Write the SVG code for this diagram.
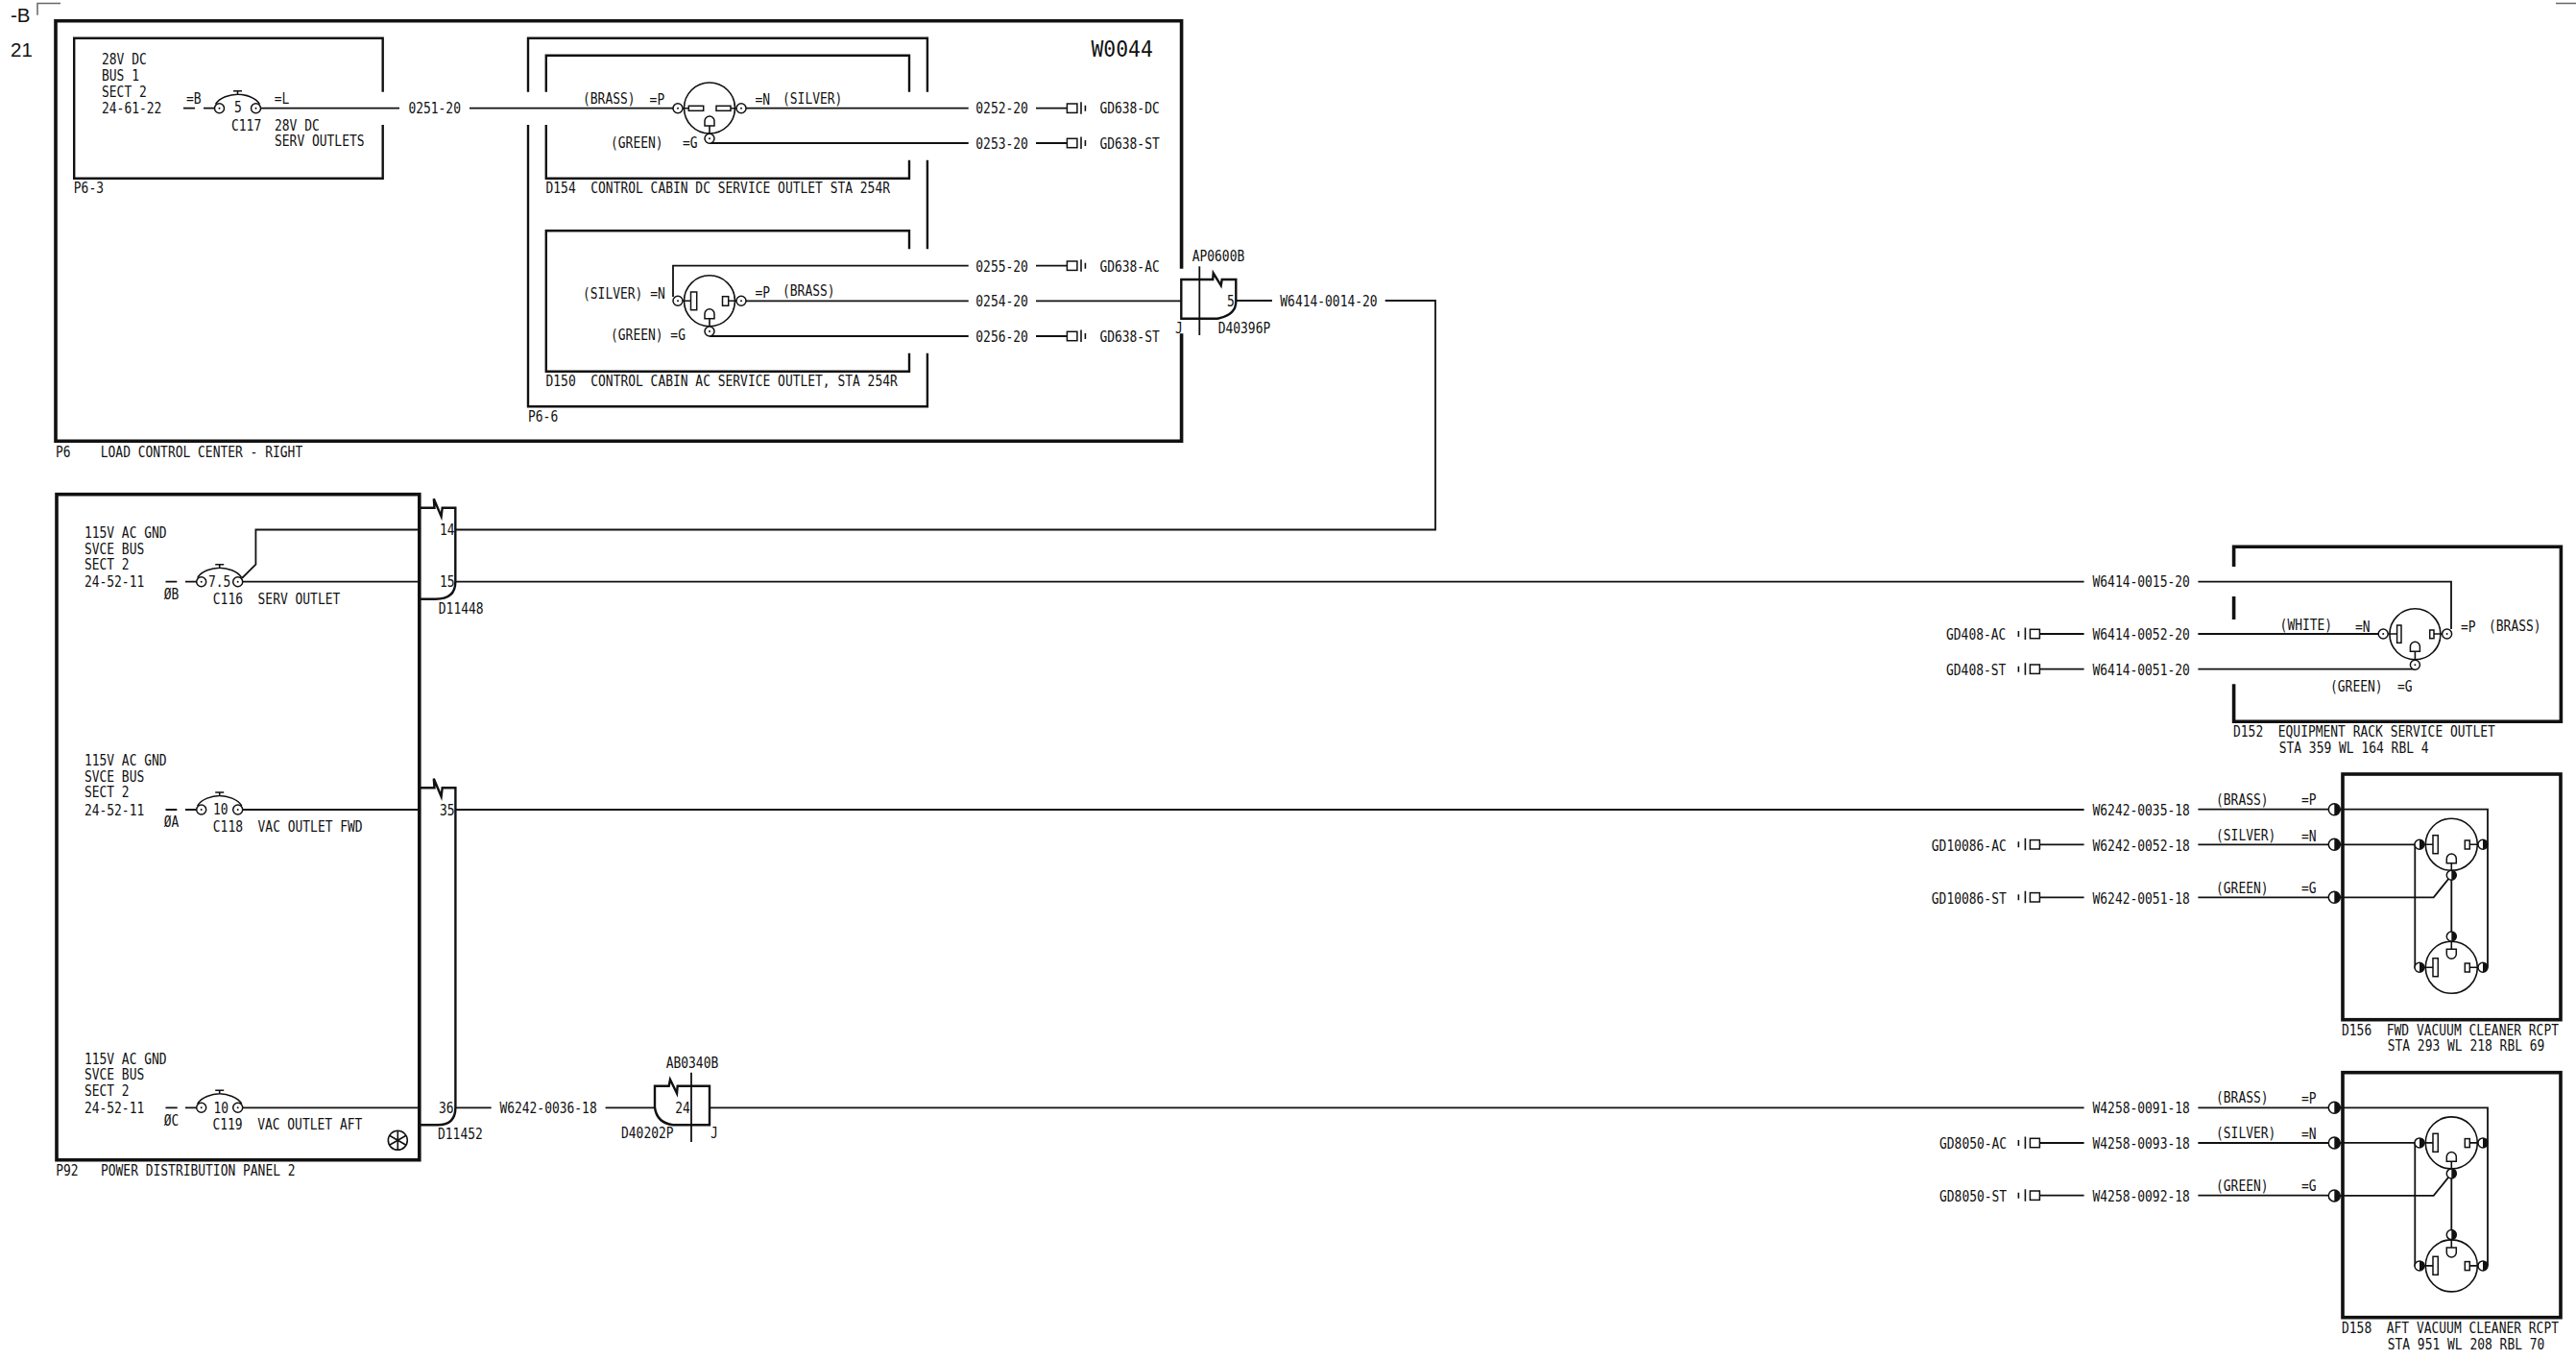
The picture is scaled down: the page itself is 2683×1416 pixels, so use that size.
<svg xmlns="http://www.w3.org/2000/svg" xmlns:xlink="http://www.w3.org/1999/xlink" width="2683" height="1416" viewBox="0 0 2683 1416">
<style>
text{font-family:"DejaVu Sans Mono","Liberation Mono",monospace;font-size:15px;fill:#111;white-space:pre}
.big{font-size:23px}
.page{font-family:"Liberation Sans",Arial,sans-serif;font-size:20.5px}
.w{fill:none;stroke:#111;stroke-width:1.8}
.b{fill:none;stroke:#111;stroke-width:2.4}
.o{fill:none;stroke:#111;stroke-width:3.6;stroke-linecap:square}
.s{fill:#fff;stroke:#111;stroke-width:1.5}
.n{fill:none;stroke:#111;stroke-width:1.6}
.k{fill:#111}
.m{fill:none;stroke:#666;stroke-width:1.5}
</style>
<defs>
<g id="t"><circle class="s" r="5"/><circle class="k" r="1"/></g>
<g id="h"><circle class="s" r="5"/><path class="k" d="M0-5A5 5 0 0 1 0 5Z"/></g>
<g id="H"><circle class="s" r="6"/><path class="k" d="M0-6A6 6 0 0 1 0 6Z"/></g>
<g id="gr"><rect class="s" y="-4.7" width="10.5" height="9.4"/><path class="n" d="M14.600-6.500V6M19-3V3"/></g>
<g id="gl"><rect class="s" x="-10" y="-4.700" width="10" height="9.4"/><path class="n" d="M-15-6.500V6M-22-3V3"/></g>
<g id="cb"><path class="n" d="M-23-4C-19-11-8-14.500 0-14.500S19-11 23-4M0-14.500V-18M-4.500-18H4.500"/><use xlink:href="#t" href="#t" x="-19"/><use xlink:href="#t" href="#t" x="19"/></g>
<g id="gnd"><path class="s" d="M-5 0V-5A5 5 0 0 1 5-5V0Z"/></g>
<g id="duo">
<path class="w" d="M2437 842.700H2591V1007.300M2437 879.300H2520M2515.300 879.300V1007.300H2520M2437 934.300H2534.700L2553.300 911.300V975M2586 879.300H2591"/>
<circle class="n" cx="2553.300" cy="879.300" r="27"/><circle class="n" cx="2553.300" cy="1007.300" r="27"/>
<path class="n" d="M2525 879.300H2534M2572.300 879.300H2581M2553.300 898.700V906M2525 1007.300H2534M2572.300 1007.300H2581M2553.300 980V988.300"/>
<rect class="s" x="2534" y="869.700" width="5.300" height="19"/><rect class="s" x="2567.300" y="875" width="5" height="9"/>
<rect class="s" x="2534" y="997.700" width="5.300" height="19"/><rect class="s" x="2567.300" y="1003" width="5" height="9"/>
<path class="s" d="M2548.300 898.700V894A5 5 0 0 1 2558.300 894V898.700Z"/><path class="s" d="M2548.300 988.300V993.300A5 5 0 0 0 2558.300 993.300V988.300Z"/>
<use xlink:href="#h" href="#h" x="2520" y="879.300"/><use xlink:href="#h" href="#h" x="2586" y="879.300"/><use xlink:href="#h" href="#h" x="2553.300" y="911.300"/>
<use xlink:href="#h" href="#h" x="2520" y="1007.300"/><use xlink:href="#h" href="#h" x="2586" y="1007.300"/><use xlink:href="#h" href="#h" x="2553.300" y="975"/>
<use xlink:href="#H" href="#H" x="2431.300" y="842.700"/><use xlink:href="#H" href="#H" x="2431.300" y="879.300"/><use xlink:href="#H" href="#H" x="2431.300" y="934.300"/>
</g>
</defs>

<g id="page-marks">
<path class="m" d="M39 15.700V3.500H63M2662 3.500H2683"/>
<text class="page" x="11" y="22.700">-B</text>
<text class="page" x="11" y="59">21</text>
</g>

<g id="connectors">
<path class="w" d="M191 112.700H203M212 112.700H224M271 112.700H416M489 112.700H701M776 112.700H1008.700M1079 112.700H1111.400M739 149H1008.700M1079 149H1111.400"/>
<path class="w" d="M1008.700 276.700H701V309M1079 276.700H1111.400M776 313.300H1008.700M1079 313.300H1230.300M739 350H1008.700M1079 350H1111.400"/>
<path class="w" d="M1287.300 313H1325M1442.700 313H1495V551.500H474.300"/>
<path class="w" d="M172.500 605.700H184.300M193 605.700H205M252 602L266.400 587.700V551.500H437M252.500 605.700H437M474.300 605.700H2170.600M2289.400 605.700H2553V655"/>
<path class="w" d="M172.500 843H184.300M193 843H205M252.500 843H437M474.300 843H2170.600M2289.400 842.700H2426"/>
<path class="w" d="M172.500 1153.300H184.700M193 1153.300H205M252.500 1153.300H437M474.500 1153.300H511.700M630.600 1153.300H682M739 1153.300H2170.600M2289.400 1153.300H2426"/>
<path class="w" d="M2124.400 660H2170.600M2289.400 660H2477M2124.400 696.700H2170.600M2289.400 696.700H2515.400"/>
<path class="w" d="M2124.400 879.300H2170.600M2289.400 879.300H2426M2124.400 934.300H2170.600M2289.400 934.300H2426"/>
<path class="w" d="M2124.400 1190H2170.600M2289.400 1190H2426M2124.400 1244.700H2170.600M2289.400 1244.700H2426"/>
</g>

<g id="P6">
<path class="o" d="M1230.600 278V21.700H58V459.300H1230.600V349"/>
<text class="big" transform="matrix(.93 0 0 1 1136.500 58.800)">W0044</text>
<text transform="matrix(.864 0 0 1 58 475.500)">P6    LOAD CONTROL CENTER - RIGHT</text>
</g>

<g id="P6-3">
<path class="b" d="M398.700 95.700V39.700H77.200V185.700H398.700V130"/>
<text transform="matrix(.864 0 0 1 106 66.700)">28V DC</text>
<text transform="matrix(.864 0 0 1 106 84)">BUS 1</text>
<text transform="matrix(.864 0 0 1 106 100.500)">SECT 2</text>
<text transform="matrix(.864 0 0 1 106 118)">24-61-22</text>
<text transform="matrix(.864 0 0 1 194 108.300)">=B</text>
<text transform="matrix(.864 0 0 1 285.700 108.300)">=L</text>
<use xlink:href="#cb" href="#cb" x="247.500" y="112.700"/>
<text transform="matrix(.864 0 0 1 244 117)">5</text>
<text transform="matrix(.864 0 0 1 241 136)">C117</text>
<text transform="matrix(.864 0 0 1 286 136)">28V DC</text>
<text transform="matrix(.864 0 0 1 286 152)">SERV OUTLETS</text>
<text transform="matrix(.864 0 0 1 76.800 201)">P6-3</text>
</g>

<g id="wire-labels-top">
<text transform="matrix(.864 0 0 1 425.400 118.300)">0251-20</text>
<text transform="matrix(.864 0 0 1 1016.300 118.300)">0252-20</text>
<text transform="matrix(.864 0 0 1 1016.300 155)">0253-20</text>
<text transform="matrix(.864 0 0 1 1016.300 283)">0255-20</text>
<text transform="matrix(.864 0 0 1 1016.300 318.700)">0254-20</text>
<text transform="matrix(.864 0 0 1 1016.300 356)">0256-20</text>
<text transform="matrix(.864 0 0 1 1333.300 319)">W6414-0014-20</text>
<use xlink:href="#gr" href="#gr" x="1111.400" y="112.700"/>
<use xlink:href="#gr" href="#gr" x="1111.400" y="149"/>
<use xlink:href="#gr" href="#gr" x="1111.400" y="276.700"/>
<use xlink:href="#gr" href="#gr" x="1111.400" y="350"/>
<text transform="matrix(.864 0 0 1 1145.400 118.300)">GD638-DC</text>
<text transform="matrix(.864 0 0 1 1145.400 155)">GD638-ST</text>
<text transform="matrix(.864 0 0 1 1145.400 283)">GD638-AC</text>
<text transform="matrix(.864 0 0 1 1145.400 356)">GD638-ST</text>
</g>

<g id="P6-6">
<path class="b" d="M550 95.700V39.700H965.900V95.700M965.900 166.700V259.300M965.900 367.700V423.300H550V130"/>
<text transform="matrix(.864 0 0 1 550 439.300)">P6-6</text>
</g>

<g id="D154">
<path class="b" d="M568.800 95.700V57.700H947V95.700M947 166.700V185.700H568.800V130"/>
<circle class="n" cx="739" cy="112.500" r="26.500"/>
<path class="n" d="M711 112.700H717.300M761 112.700H767M739 131V139"/>
<rect class="s" x="717.300" y="110.300" width="15.400" height="5"/><rect class="s" x="746" y="110.300" width="15" height="5"/>
<use xlink:href="#gnd" href="#gnd" x="739" y="131"/>
<use xlink:href="#t" href="#t" x="706" y="112.700"/><use xlink:href="#t" href="#t" x="772" y="112.700"/><use xlink:href="#t" href="#t" x="739" y="144.300"/>
<text transform="matrix(.864 0 0 1 607 107.700)">(BRASS)</text>
<text transform="matrix(.864 0 0 1 676.600 109.300)">=P</text>
<text transform="matrix(.864 0 0 1 786.400 109.300)">=N</text>
<text transform="matrix(.864 0 0 1 815 107.700)">(SILVER)</text>
<text transform="matrix(.864 0 0 1 636 154)">(GREEN)</text>
<text transform="matrix(.864 0 0 1 711 154)">=G</text>
<text transform="matrix(.864 0 0 1 568.500 201)">D154  CONTROL CABIN DC SERVICE OUTLET STA 254R</text>
</g>

<g id="D150">
<path class="b" d="M947 259.300V240.300H568.800V386.700H947V367.700"/>
<circle class="n" cx="739" cy="313.300" r="26.500"/>
<path class="n" d="M711 313.300H719.500M758.700 313.300H767M739 331.700V340"/>
<rect class="s" x="719.500" y="304" width="6.200" height="18.700"/><rect class="s" x="752.500" y="308.700" width="6.200" height="9.600"/>
<use xlink:href="#gnd" href="#gnd" x="739" y="331.700"/>
<use xlink:href="#t" href="#t" x="706" y="313.300"/><use xlink:href="#t" href="#t" x="772" y="313.300"/><use xlink:href="#t" href="#t" x="739" y="345"/>
<text transform="matrix(.864 0 0 1 607 310.700)">(SILVER) =N</text>
<text transform="matrix(.864 0 0 1 786.400 310)">=P</text>
<text transform="matrix(.864 0 0 1 815 308.300)">(BRASS)</text>
<text transform="matrix(.864 0 0 1 636 354.300)">(GREEN) =G</text>
<text transform="matrix(.864 0 0 1 568.500 402.300)">D150  CONTROL CABIN AC SERVICE OUTLET, STA 254R</text>
</g>

<g id="AP0600B">
<path class="b" d="M1263.200 291H1230.300V331.700H1268Q1287.300 328 1287.300 314V291H1272.700L1271.700 297.300L1263.700 284.300Z"/>
<path class="w" d="M1249.300 277.300V349"/>
<text transform="matrix(.864 0 0 1 1241.700 272.300)">AP0600B</text>
<text transform="matrix(.864 0 0 1 1278 319)">5</text>
<text transform="matrix(.864 0 0 1 1224 347.300)">J</text>
<text transform="matrix(.864 0 0 1 1268.700 347.300)">D40396P</text>
</g>

<g id="P92">
<rect class="o" x="59" y="514.700" width="377.800" height="693"/>
<text transform="matrix(.864 0 0 1 87.900 560.300)">115V AC GND</text>
<text transform="matrix(.864 0 0 1 87.900 577.300)">SVCE BUS</text>
<text transform="matrix(.864 0 0 1 87.900 593.300)">SECT 2</text>
<text transform="matrix(.864 0 0 1 87.900 611.300)">24-52-11</text>
<use xlink:href="#cb" href="#cb" x="228.700" y="605.700"/>
<text transform="matrix(.864 0 0 1 217 610.700)">7.5</text>
<text transform="matrix(.864 0 0 1 170.700 624)">ØB</text>
<text transform="matrix(.864 0 0 1 221.800 629.300)">C116  SERV OUTLET</text>
<text transform="matrix(.864 0 0 1 87.900 797.300)">115V AC GND</text>
<text transform="matrix(.864 0 0 1 87.900 814.300)">SVCE BUS</text>
<text transform="matrix(.864 0 0 1 87.900 830)">SECT 2</text>
<text transform="matrix(.864 0 0 1 87.900 849)">24-52-11</text>
<use xlink:href="#cb" href="#cb" x="228.700" y="843"/>
<text transform="matrix(.864 0 0 1 222 848.300)">10</text>
<text transform="matrix(.864 0 0 1 170.700 861.300)">ØA</text>
<text transform="matrix(.864 0 0 1 221.800 866.300)">C118  VAC OUTLET FWD</text>
<text transform="matrix(.864 0 0 1 87.900 1108.300)">115V AC GND</text>
<text transform="matrix(.864 0 0 1 87.900 1124.300)">SVCE BUS</text>
<text transform="matrix(.864 0 0 1 87.900 1141.300)">SECT 2</text>
<text transform="matrix(.864 0 0 1 87.900 1159.300)">24-52-11</text>
<use xlink:href="#cb" href="#cb" x="228.700" y="1153.300"/>
<text transform="matrix(.864 0 0 1 222.400 1158.700)">10</text>
<text transform="matrix(.864 0 0 1 170.700 1172.300)">ØC</text>
<text transform="matrix(.864 0 0 1 221.400 1176)">C119  VAC OUTLET AFT</text>
<g transform="translate(414.300 1187.300)"><circle class="n" r="10"/><path class="n" d="M0-10V10M-8.700-5L8.700 5M-8.700 5L8.700-5"/></g>
<text transform="matrix(.864 0 0 1 58.200 1224)">P92   POWER DISTRIBUTION PANEL 2</text>
</g>

<g id="D11448">
<path class="b" d="M437 528.700H452.500L451.800 519.300L459.600 537.700L460.700 528.700H474.300V606Q474.300 623.700 453.600 623.700H437"/>
<text transform="matrix(.864 0 0 1 457.900 557.300)">14</text>
<text transform="matrix(.864 0 0 1 457.900 611)">15</text>
<text transform="matrix(.864 0 0 1 456.800 639)">D11448</text>
</g>

<g id="D11452">
<path class="b" d="M437 820.300H452.500L451.800 810.700L459.600 829.300L460.700 820.300H474.400V1153Q474.400 1171.300 456 1171.300H437"/>
<text transform="matrix(.864 0 0 1 457.900 849)">35</text>
<text transform="matrix(.864 0 0 1 457 1159.300)">36</text>
<text transform="matrix(.864 0 0 1 456 1186)">D11452</text>
</g>

<g id="AB0340B">
<path class="b" d="M682 1153V1130.700H696.700L698 1124L705 1138.300L705.700 1130.700H739V1171.300H701Q684 1169 682 1153Z"/>
<path class="w" d="M720 1116.700V1189"/>
<text transform="matrix(.864 0 0 1 693.700 1111.700)">AB0340B</text>
<text transform="matrix(.864 0 0 1 703.300 1159)">24</text>
<text transform="matrix(.864 0 0 1 647 1185)">D40202P</text>
<text transform="matrix(.864 0 0 1 740 1185)">J</text>
<text transform="matrix(.864 0 0 1 520.400 1159.300)">W6242-0036-18</text>
</g>

<g id="D152">
<path class="o" d="M2326.600 588.300V569.300H2667.400V751.300H2326.600V714M2326.600 622.700V643.300"/>
<circle class="n" cx="2515.400" cy="660.300" r="26.500"/>
<path class="n" d="M2487 660H2496.600M2535 660H2543.600M2515.400 678.300V687.300"/>
<rect class="s" x="2496.600" y="651" width="4.400" height="18.300"/><rect class="s" x="2530.700" y="656" width="4.300" height="8.700"/>
<use xlink:href="#gnd" href="#gnd" x="2515.400" y="678.300"/>
<use xlink:href="#t" href="#t" x="2482.200" y="660"/><use xlink:href="#t" href="#t" x="2548.600" y="660"/><use xlink:href="#t" href="#t" x="2515.400" y="692.300"/>
<text transform="matrix(.864 0 0 1 2374.600 656)">(WHITE)</text>
<text transform="matrix(.864 0 0 1 2453 657.700)">=N</text>
<text transform="matrix(.864 0 0 1 2563 657.700)">=P</text>
<text transform="matrix(.864 0 0 1 2592 656.700)">(BRASS)</text>
<text transform="matrix(.864 0 0 1 2427 720)">(GREEN)</text>
<text transform="matrix(.864 0 0 1 2497 720)">=G</text>
<text transform="matrix(.864 0 0 1 2326 766.700)">D152  EQUIPMENT RACK SERVICE OUTLET</text>
<text transform="matrix(.864 0 0 1 2373.700 784.300)">STA 359 WL 164 RBL 4</text>
<text transform="matrix(.864 0 0 1 2179.500 611)">W6414-0015-20</text>
<text transform="matrix(.864 0 0 1 2179.500 666)">W6414-0052-20</text>
<text transform="matrix(.864 0 0 1 2179.500 702.700)">W6414-0051-20</text>
<use xlink:href="#gl" href="#gl" x="2124.400" y="660"/><use xlink:href="#gl" href="#gl" x="2124.400" y="696.700"/>
<text transform="matrix(.864 0 0 1 2027 666)">GD408-AC</text>
<text transform="matrix(.864 0 0 1 2027 702.700)">GD408-ST</text>
</g>

<g id="D156">
<rect class="o" x="2440" y="806" width="227" height="255.700"/>
<use xlink:href="#duo" href="#duo"/>
<text transform="matrix(.864 0 0 1 2308 837.700)">(BRASS)</text>
<text transform="matrix(.864 0 0 1 2397 838.300)">=P</text>
<text transform="matrix(.864 0 0 1 2308 875)">(SILVER)</text>
<text transform="matrix(.864 0 0 1 2397 876)">=N</text>
<text transform="matrix(.864 0 0 1 2308 930)">(GREEN)</text>
<text transform="matrix(.864 0 0 1 2397 930)">=G</text>
<text transform="matrix(.864 0 0 1 2179.500 849)">W6242-0035-18</text>
<text transform="matrix(.864 0 0 1 2179.500 885.700)">W6242-0052-18</text>
<text transform="matrix(.864 0 0 1 2179.500 940.700)">W6242-0051-18</text>
<use xlink:href="#gl" href="#gl" x="2124.400" y="879.300"/><use xlink:href="#gl" href="#gl" x="2124.400" y="934.300"/>
<text transform="matrix(.864 0 0 1 2011.800 885.700)">GD10086-AC</text>
<text transform="matrix(.864 0 0 1 2011.800 940.700)">GD10086-ST</text>
<text transform="matrix(.864 0 0 1 2439 1078.300)">D156  FWD VACUUM CLEANER RCPT</text>
<text transform="matrix(.864 0 0 1 2486.700 1094)">STA 293 WL 218 RBL 69</text>
</g>

<g id="D158">
<rect class="o" x="2440" y="1116.700" width="227" height="255"/>
<use xlink:href="#duo" href="#duo" y="310.600"/>
<text transform="matrix(.864 0 0 1 2308 1148.300)">(BRASS)</text>
<text transform="matrix(.864 0 0 1 2397 1149)">=P</text>
<text transform="matrix(.864 0 0 1 2308 1185)">(SILVER)</text>
<text transform="matrix(.864 0 0 1 2397 1186)">=N</text>
<text transform="matrix(.864 0 0 1 2308 1240)">(GREEN)</text>
<text transform="matrix(.864 0 0 1 2397 1240)">=G</text>
<text transform="matrix(.864 0 0 1 2179.500 1159.300)">W4258-0091-18</text>
<text transform="matrix(.864 0 0 1 2179.500 1196)">W4258-0093-18</text>
<text transform="matrix(.864 0 0 1 2179.500 1250.700)">W4258-0092-18</text>
<use xlink:href="#gl" href="#gl" x="2124.400" y="1190"/><use xlink:href="#gl" href="#gl" x="2124.400" y="1244.700"/>
<text transform="matrix(.864 0 0 1 2020 1196)">GD8050-AC</text>
<text transform="matrix(.864 0 0 1 2020 1250.700)">GD8050-ST</text>
<text transform="matrix(.864 0 0 1 2439 1388.300)">D158  AFT VACUUM CLEANER RCPT</text>
<text transform="matrix(.864 0 0 1 2486.700 1405)">STA 951 WL 208 RBL 70</text>
</g>
</svg>
